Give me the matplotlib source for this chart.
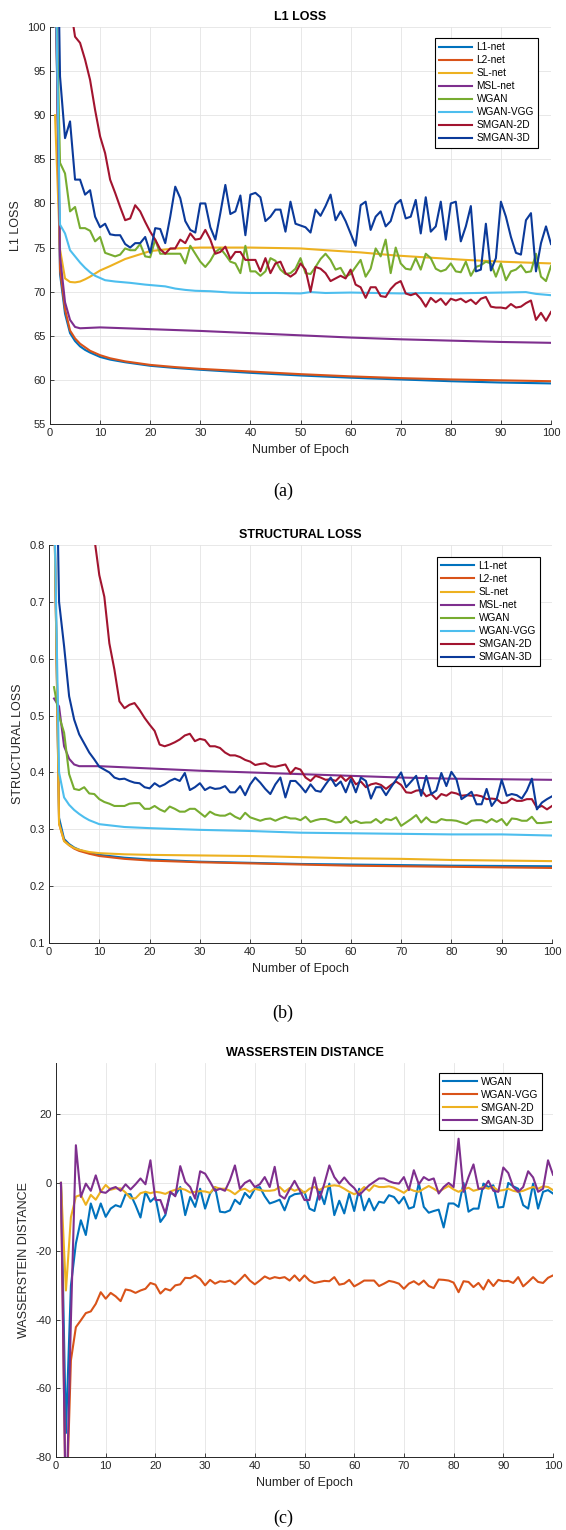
import numpy as np
import matplotlib
matplotlib.use("Agg")
import matplotlib.pyplot as plt

plt.rcParams["font.family"] = ["Liberation Sans", "DejaVu Sans"]
plt.rcParams["axes.unicode_minus"] = False

# ---------------- data ----------------
epochs = np.arange(1, 101)

# (a) L1 loss - smooth curves given at selected epochs
a_base_ep = [1, 2, 3, 4, 5, 6, 7, 8, 10, 12, 15, 20, 25, 30, 40, 50, 60, 70, 80, 90, 100]
a_l1 = [110, 72, 67.5, 65.3, 64.4, 63.8, 63.4, 63.1, 62.6, 62.3, 62.0, 61.6, 61.35, 61.15,
        60.8, 60.5, 60.25, 60.05, 59.85, 59.7, 59.6]
a_l2 = [110, 72.5, 68, 65.6, 64.7, 64.1, 63.7, 63.3, 62.8, 62.45, 62.1, 61.7, 61.45, 61.25,
        60.95, 60.65, 60.4, 60.2, 60.05, 59.95, 59.85]
a_sl_ep = [1, 2, 3, 4, 5, 6, 7, 8, 10, 12, 15, 20, 25, 30, 40, 50, 55, 62, 69, 76, 83, 90, 100]
a_sl = [90, 74.8, 71.5, 71.1, 71.05, 71.15, 71.4, 71.7, 72.4, 72.9, 73.7, 74.6, 74.9, 75.0,
        75.0, 74.9, 74.7, 74.45, 74.1, 73.85, 73.6, 73.4, 73.2]
a_msl_ep = [1, 2, 3, 4, 5, 6, 8, 10, 20, 30, 40, 50, 60, 70, 80, 90, 100]
a_msl = [110, 74, 68.8, 66.8, 66.0, 65.85, 65.9, 65.95, 65.75, 65.55, 65.3, 65.05, 64.8,
         64.6, 64.45, 64.3, 64.2]
a_vgg_ep = [1, 2, 3, 4, 5, 6, 7, 8, 9, 11, 13, 16, 19, 21, 23, 25, 27, 29, 32, 36, 40, 45,
            50, 52, 55, 60, 65, 70, 75, 80, 85, 90, 95, 97, 100]
a_vgg = [110, 77.6, 76.6, 74.7, 74.0, 73.3, 72.7, 72.2, 71.8, 71.3, 71.15, 71.0, 70.8, 70.7,
         70.6, 70.35, 70.2, 70.1, 70.05, 69.9, 69.85, 69.85, 69.8, 69.95, 69.85, 69.9, 69.85,
         69.8, 69.85, 69.8, 69.85, 69.9, 69.95, 69.75, 69.6]
a_wgan = [110, 84.6, 83.4, 79.1, 79.6, 77.2, 77.2, 76.9, 75.7, 76.2,
          74.4, 74.2, 74.0, 74.2, 74.9, 74.7, 74.7, 75.4, 74.0, 73.9,
          75.9, 74.3, 74.3, 74.3, 74.3, 74.3, 73.2, 75.2, 74.3, 73.4,
          72.8, 73.5, 74.5, 74.9, 74.2, 73.4, 73.2, 72.1, 75.2, 72.3,
          72.3, 71.8, 72.3, 73.8, 73.5, 72.5, 72.0, 72.1, 72.6, 73.8,
          72.1, 72.0, 72.8, 73.7, 74.3, 73.6, 72.5, 72.7, 71.7, 72.0,
          72.8, 73.6, 71.7, 72.6, 74.9, 74.0, 75.9, 72.1, 75.0, 73.2,
          72.6, 72.5, 73.8, 72.5, 74.3, 73.8, 72.6, 72.3, 72.5, 73.2,
          72.3, 72.2, 73.4, 71.8, 72.8, 73.0, 73.4, 73.2, 71.7, 73.2,
          71.3, 72.3, 72.5, 73.0, 72.2, 72.3, 74.3, 71.7, 71.2, 72.9]
a_sm2d = [135, 120, 110, 102.6, 98.9, 98.2, 96.3, 94.0, 90.6, 87.6,
          85.7, 82.7, 81.2, 79.6, 78.1, 78.3, 79.8, 79.1, 77.9, 76.8,
          75.9, 74.8, 74.3, 74.9, 74.9, 75.9, 75.5, 76.6, 75.9, 76.0,
          77.0, 75.9, 74.3, 74.5, 75.1, 73.7, 74.5, 74.5, 73.6, 73.6,
          73.6, 72.3, 73.8, 72.1, 73.2, 73.4, 72.1, 71.7, 72.1, 73.2,
          72.5, 70.0, 72.8, 72.6, 72.1, 71.2, 71.5, 71.8, 71.5, 72.5,
          70.8, 70.5, 69.3, 70.5, 70.5, 69.5, 69.4, 70.3, 70.9, 71.2,
          69.8, 69.6, 69.8, 69.2, 68.3, 69.3, 68.8, 69.2, 68.5, 69.2,
          69.0, 69.2, 68.8, 69.1, 68.6, 69.2, 69.4, 68.3, 68.2, 68.2,
          68.1, 68.6, 68.2, 68.3, 68.7, 69.0, 66.8, 67.6, 66.7, 67.7]
a_sm3d = [130, 94.4, 87.4, 89.3, 82.7, 82.7, 81.0, 81.5, 78.5, 77.3,
          77.7, 76.5, 76.4, 76.4, 75.4, 75.0, 75.5, 75.5, 76.2, 74.4,
          77.2, 77.1, 75.5, 78.5, 81.9, 80.6, 78.0, 77.0, 76.7, 80.0,
          80.0, 77.3, 75.9, 78.9, 82.1, 78.8, 79.1, 80.9, 76.4, 81.0,
          81.2, 80.7, 78.0, 78.5, 79.3, 79.3, 76.8, 80.2, 77.7, 77.5,
          77.3, 76.7, 79.3, 78.6, 79.7, 81.0, 78.1, 79.1, 78.0, 76.6,
          75.2, 79.8, 80.2, 77.0, 78.5, 79.1, 77.4, 78.0, 79.9, 80.4,
          78.3, 78.5, 80.4, 76.6, 80.7, 76.8, 77.4, 80.2, 75.9, 80.0,
          80.2, 75.7, 77.4, 79.7, 72.3, 72.5, 77.7, 72.4, 73.8, 80.2,
          78.5, 76.2, 74.4, 74.2, 78.1, 78.9, 72.3, 75.5, 77.4, 75.4]

# (b) structural loss
b_base_ep = [1, 2, 3, 4, 5, 6, 8, 10, 15, 20, 30, 40, 50, 60, 70, 80, 90, 100]
b_l1 = [0.9, 0.32, 0.283, 0.274, 0.268, 0.264, 0.258, 0.255, 0.25, 0.247, 0.243, 0.241,
        0.239, 0.238, 0.237, 0.236, 0.2355, 0.235]
b_l2 = [0.9, 0.31, 0.28, 0.272, 0.266, 0.262, 0.257, 0.253, 0.248, 0.245, 0.242, 0.24,
        0.238, 0.236, 0.235, 0.234, 0.233, 0.232]
b_sl = [0.9, 0.31, 0.279, 0.272, 0.267, 0.264, 0.26, 0.258, 0.256, 0.255, 0.254, 0.253,
        0.251, 0.249, 0.248, 0.246, 0.245, 0.244]
b_msl = [0.53, 0.516, 0.446, 0.424, 0.414, 0.411, 0.411, 0.411, 0.409, 0.407, 0.403, 0.400,
         0.397, 0.394, 0.391, 0.389, 0.388, 0.387]
b_vgg_ep = [1, 2, 3, 4, 5, 6, 7, 8, 10, 15, 20, 30, 40, 50, 60, 70, 80, 90, 100]
b_vgg = [0.9, 0.40, 0.356, 0.343, 0.334, 0.327, 0.321, 0.316, 0.309, 0.304, 0.302, 0.299,
         0.297, 0.294, 0.293, 0.292, 0.291, 0.291, 0.289]
b_wgan = [0.55, 0.499, 0.470, 0.397, 0.371, 0.369, 0.374, 0.363, 0.362, 0.353,
          0.348, 0.345, 0.341, 0.341, 0.341, 0.345, 0.346, 0.346, 0.336, 0.336,
          0.341, 0.335, 0.331, 0.340, 0.336, 0.331, 0.331, 0.336, 0.336, 0.329,
          0.322, 0.331, 0.326, 0.324, 0.324, 0.328, 0.322, 0.318, 0.329, 0.321,
          0.318, 0.315, 0.318, 0.319, 0.315, 0.319, 0.322, 0.319, 0.319, 0.316,
          0.322, 0.313, 0.316, 0.318, 0.318, 0.315, 0.312, 0.313, 0.322, 0.311,
          0.315, 0.311, 0.312, 0.312, 0.318, 0.311, 0.318, 0.316, 0.321, 0.306,
          0.312, 0.318, 0.325, 0.312, 0.321, 0.313, 0.312, 0.318, 0.316, 0.316,
          0.315, 0.312, 0.309, 0.315, 0.316, 0.316, 0.312, 0.318, 0.313, 0.318,
          0.307, 0.319, 0.318, 0.315, 0.315, 0.322, 0.311, 0.311, 0.312, 0.313]
b_sm2d = [1.5, 1.3, 1.15, 1.05, 0.98, 0.93, 0.89, 0.86, 0.813, 0.747,
          0.709, 0.627, 0.581, 0.525, 0.513, 0.519, 0.522, 0.510, 0.496, 0.484,
          0.473, 0.449, 0.446, 0.449, 0.453, 0.458, 0.465, 0.468, 0.455, 0.459,
          0.457, 0.446, 0.446, 0.443, 0.435, 0.430, 0.430, 0.427, 0.422, 0.419,
          0.413, 0.415, 0.416, 0.411, 0.410, 0.412, 0.414, 0.398, 0.408, 0.405,
          0.391, 0.385, 0.394, 0.391, 0.387, 0.388, 0.385, 0.394, 0.385, 0.393,
          0.379, 0.384, 0.374, 0.379, 0.381, 0.378, 0.371, 0.378, 0.384, 0.378,
          0.365, 0.364, 0.368, 0.369, 0.358, 0.362, 0.353, 0.362, 0.359, 0.365,
          0.363, 0.359, 0.360, 0.359, 0.360, 0.358, 0.353, 0.354, 0.353, 0.346,
          0.347, 0.354, 0.350, 0.350, 0.353, 0.353, 0.338, 0.341, 0.335, 0.341]
b_sm3d = [1.2, 0.700, 0.622, 0.534, 0.493, 0.467, 0.451, 0.435, 0.423, 0.410,
          0.405, 0.400, 0.391, 0.388, 0.389, 0.385, 0.382, 0.381, 0.374, 0.372,
          0.381, 0.375, 0.379, 0.385, 0.389, 0.385, 0.399, 0.369, 0.374, 0.381,
          0.369, 0.374, 0.371, 0.372, 0.376, 0.365, 0.365, 0.376, 0.360, 0.379,
          0.391, 0.382, 0.371, 0.362, 0.379, 0.391, 0.356, 0.385, 0.385, 0.376,
          0.365, 0.379, 0.368, 0.366, 0.379, 0.391, 0.376, 0.384, 0.365, 0.388,
          0.365, 0.391, 0.385, 0.354, 0.374, 0.374, 0.360, 0.374, 0.387, 0.400,
          0.374, 0.384, 0.394, 0.359, 0.394, 0.362, 0.368, 0.399, 0.376, 0.401,
          0.388, 0.353, 0.359, 0.366, 0.344, 0.344, 0.371, 0.341, 0.353, 0.387,
          0.359, 0.362, 0.360, 0.354, 0.368, 0.389, 0.335, 0.347, 0.353, 0.358]

# (c) Wasserstein distance
c_wgan = [0, -73, -30, -17.7, -10.9, -15.2, -6.0, -10.4, -6.0, -9.9,
          -7.5, -6.5, -7.0, -3.3, -3.3, -6.5, -10.1, -2.6, -5.5, -4.1,
          -11.4, -9.4, -2.9, -3.6, -1.2, -9.4, -4.1, -7.0, -1.7, -7.5,
          -3.1, -1.2, -8.4, -8.6, -8.0, -4.9, -6.2, -2.9, -4.4, -1.7,
          -1.2, -3.9, -6.0, -5.5, -4.9, -8.0, -4.1, -3.3, -3.1, -2.6,
          -7.5, -8.2, -2.1, -6.2, -0.2, -9.4, -5.2, -8.9, -3.1, -8.2,
          -1.7, -8.0, -4.6, -8.0, -5.5, -5.8, -3.6, -4.1, -6.0, -4.1,
          -7.5, -7.0, 0.0, -7.0, -8.7, -8.2, -7.8, -13.0, -6.0, -6.0,
          -7.0, 0.0, -8.4, -7.5, -7.5, -0.2, -1.2, -0.7, -7.2, -7.0,
          0.0, -1.0, -1.7, -6.5, -7.5, -0.2, -7.5, -2.6, -2.1, -3.1]
c_vgg = [0, -100, -51.8, -42.1, -40.1, -38.0, -37.5, -35.3, -31.9, -33.8,
         -32.1, -33.1, -34.5, -31.1, -31.4, -32.1, -31.4, -30.9, -29.2, -29.7,
         -32.3, -30.9, -31.4, -29.9, -29.6, -27.7, -27.8, -27.0, -28.0, -29.9,
         -28.3, -29.4, -28.7, -28.9, -28.5, -29.6, -28.3, -26.8, -28.5, -29.6,
         -28.5, -27.3, -28.0, -27.5, -27.8, -27.5, -28.5, -27.0, -28.6, -27.0,
         -28.5, -29.2, -28.9, -28.6, -28.7, -27.5, -29.7, -29.4, -28.3, -30.2,
         -29.4, -28.5, -28.5, -28.5, -30.1, -29.4, -28.6, -28.9, -29.4, -30.9,
         -29.4, -28.7, -29.7, -28.5, -30.1, -30.7, -28.2, -28.3, -28.5, -29.1,
         -31.9, -28.7, -28.9, -30.4, -29.2, -31.1, -28.3, -30.1, -28.3, -28.7,
         -28.6, -29.2, -27.5, -30.2, -28.9, -27.5, -28.9, -29.2, -27.7, -27.0]
c_sm2d = [0, -31.4, -10.0, -4.0, -3.5, -6.4, -3.5, -4.9, -2.5, -0.6,
          -2.0, -1.6, -1.6, -2.8, -4.5, -4.5, -3.0, -2.6, -3.0, -2.6,
          -2.8, -3.2, -2.5, -2.0, -1.6, -2.0, -2.8, -2.6, -2.4, -2.5,
          -2.9, -1.2, -1.7, -1.7, -2.3, -3.3, -2.1, -1.7, -2.6, -1.7,
          -2.1, -2.3, -2.3, -2.1, -1.2, -2.6, -1.5, -2.3, -1.7, -2.9,
          -1.7, -1.2, -2.1, -1.2, -0.9, -0.7, -0.9, -1.7, -2.6, -3.3,
          -2.6, -1.2, -2.3, -0.7, -1.2, -1.2, -1.0, -1.4, -2.1, -2.9,
          -1.7, -2.3, -2.6, -1.7, -0.9, -1.7, -2.6, -1.7, -0.9, -1.9,
          -2.6, -1.9, -1.4, -2.3, -1.9, -1.2, -1.7, -1.2, -2.3, -2.1,
          -1.7, -2.3, -2.6, -2.3, -1.7, -1.2, -1.7, -1.0, -1.2, -2.1]
c_sm3d = [0, -100, -40, 11.0, -4.1, -0.2, -2.3, 2.2, -2.6, -2.9,
          -1.7, -1.2, -2.3, -0.4, -1.9, -0.4, 1.3, -0.4, 6.6, -5.0,
          -5.0, -8.9, -2.6, -3.9, 4.9, 0.3, -1.2, -4.6, 3.4, 2.7,
          0.3, -2.3, -1.7, -2.3, 0.8, 5.1, -1.7, 0.0, 0.8, -1.2,
          -0.4, 1.7, -1.2, 4.7, -3.6, -4.6, -1.9, 0.6, -2.1, -5.0,
          -5.0, 1.6, -4.9, -0.2, 5.1, 1.7, -0.2, 1.6, -0.2, -1.5,
          -3.6, -2.1, -0.7, 0.3, 1.3, 1.3, 0.5, 0.0, -0.2, 1.7,
          -2.1, 3.7, -0.4, 1.7, 0.8, 1.3, -3.1, -1.2, 0.0, -1.2,
          12.9, -2.6, 1.7, 5.4, -1.7, -1.7, 0.6, -2.3, -2.6, 4.5,
          2.9, -1.2, -2.6, -1.2, 3.4, 1.6, -2.6, -1.7, 6.6, 2.4]

# MATLAB default-ish colours
C_BLUE = "#0072BD"
C_ORANGE = "#D95319"
C_YELLOW = "#EDB120"
C_PURPLE = "#7E2F8E"
C_GREEN = "#77AC30"
C_CYAN = "#4DBEEE"
C_RED = "#A2142F"
C_NAVY = "#0B3A9A"

FIG_W, FIG_H = 566, 1530


def rect(left, right, top, bottom):
    return [left / FIG_W, 1 - bottom / FIG_H, (right - left) / FIG_W, (bottom - top) / FIG_H]


def style(ax, ylim, yticks, ylabel, title, yfmt=None):
    ax.set_xlim(0, 100)
    ax.set_ylim(*ylim)
    ax.set_xticks(np.arange(0, 101, 10))
    ax.set_yticks(yticks)
    if yfmt:
        ax.set_yticklabels([yfmt(v) for v in yticks])
    ax.grid(True, color="#e4e4e4", linewidth=0.6)
    ax.set_axisbelow(True)
    for s in ("top", "right"):
        ax.spines[s].set_visible(False)
    for s in ("left", "bottom"):
        ax.spines[s].set_color("#262626")
        ax.spines[s].set_linewidth(0.7)
    ax.tick_params(direction="in", length=3, width=0.6, colors="#262626",
                   labelsize=8, pad=3)
    ax.set_xlabel("Number of Epoch", fontsize=9, color="#262626")
    ax.set_ylabel(ylabel, fontsize=9, color="#262626")
    ax.set_title(title, fontsize=9, fontweight="bold", pad=5)


def add_legend(ax, x, y):
    leg = ax.legend(loc="upper right", bbox_to_anchor=(x, y), fontsize=7.3,
                    frameon=True, fancybox=False, framealpha=1, edgecolor="black",
                    handlelength=3.3, handletextpad=0.4, labelspacing=0.3,
                    borderpad=0.4, borderaxespad=0)
    leg.get_frame().set_linewidth(0.8)


fig = plt.figure(figsize=(FIG_W / 100, FIG_H / 100), dpi=100)
LW = 1.5

# ---- (a) ----
ax = fig.add_axes(rect(50, 551, 27, 424))
ax.plot(a_base_ep, a_l1, color=C_BLUE, lw=LW, label="L1-net")
ax.plot(a_base_ep, a_l2, color=C_ORANGE, lw=LW, label="L2-net")
ax.plot(a_sl_ep, a_sl, color=C_YELLOW, lw=LW, label="SL-net")
ax.plot(a_msl_ep, a_msl, color=C_PURPLE, lw=LW, label="MSL-net")
ax.plot(epochs, a_wgan, color=C_GREEN, lw=LW, label="WGAN")
ax.plot(a_vgg_ep, a_vgg, color=C_CYAN, lw=LW, label="WGAN-VGG")
ax.plot(epochs, a_sm2d, color=C_RED, lw=LW, label="SMGAN-2D")
ax.plot(epochs, a_sm3d, color=C_NAVY, lw=LW, label="SMGAN-3D")
style(ax, (55, 100), np.arange(55, 101, 5), "L1 LOSS", "L1 LOSS")
add_legend(ax, 0.974, 0.972)

# ---- (b) ----
ax = fig.add_axes(rect(49, 552, 545, 943))
ax.plot(b_base_ep, b_l1, color=C_BLUE, lw=LW, label="L1-net")
ax.plot(b_base_ep, b_l2, color=C_ORANGE, lw=LW, label="L2-net")
ax.plot(b_base_ep, b_sl, color=C_YELLOW, lw=LW, label="SL-net")
ax.plot(b_base_ep, b_msl, color=C_PURPLE, lw=LW, label="MSL-net")
ax.plot(epochs, b_wgan, color=C_GREEN, lw=LW, label="WGAN")
ax.plot(b_vgg_ep, b_vgg, color=C_CYAN, lw=LW, label="WGAN-VGG")
ax.plot(epochs, b_sm2d, color=C_RED, lw=LW, label="SMGAN-2D")
ax.plot(epochs, b_sm3d, color=C_NAVY, lw=LW, label="SMGAN-3D")
style(ax, (0.1, 0.8), np.round(np.arange(0.1, 0.81, 0.1), 1), "STRUCTURAL LOSS",
      "STRUCTURAL LOSS", yfmt=lambda v: f"{v:g}")
add_legend(ax, 0.976, 0.970)

# ---- (c) ----
ax = fig.add_axes(rect(56, 553, 1063, 1457))
ax.plot(epochs, c_wgan, color=C_BLUE, lw=LW, label="WGAN")
ax.plot(epochs, c_vgg, color=C_ORANGE, lw=LW, label="WGAN-VGG")
ax.plot(epochs, c_sm2d, color=C_YELLOW, lw=LW, label="SMGAN-2D")
ax.plot(epochs, c_sm3d, color=C_PURPLE, lw=LW, label="SMGAN-3D")
style(ax, (-80, 35), np.arange(-80, 21, 20), "WASSERSTEIN DISTANCE", "WASSERSTEIN DISTANCE")
add_legend(ax, 0.978, 0.975)

# sub-figure captions
for label, ypx in (("(a)", 491), ("(b)", 1013), ("(c)", 1518)):
    fig.text(0.5, 1 - ypx / FIG_H, label, ha="center", va="center", fontsize=13,
             family=["Liberation Serif", "DejaVu Serif"])

fig.savefig("out.png", dpi=100)
